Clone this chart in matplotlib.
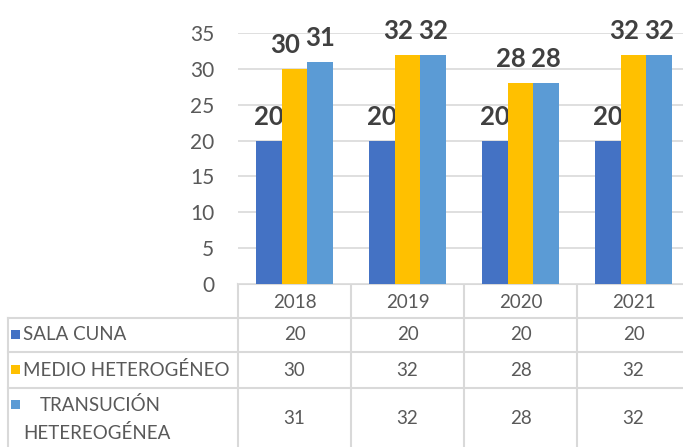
import matplotlib
matplotlib.use("Agg")
import matplotlib.pyplot as plt
import numpy as np

years = ["2018", "2019", "2020", "2021"]
series_names = ["SALA CUNA", "MEDIO HETEROGÉNEO", "TRANSUCIÓN HETEREOGÉNEA"]
sala_cuna = [20, 20, 20, 20]
medio_het = [30, 32, 28, 32]
transicion_het = [31, 32, 28, 32]
yticks = [0, 5, 10, 15, 20, 25, 30, 35]

colors = ["#4472C4", "#FFC000", "#5B9BD5"]
grid_c = "#D9D9D9"
txt_c = "#595959"
lbl_c = "#404040"

plt.rcParams['font.family'] = ['Lato', 'DejaVu Sans']

W, H = 683, 447
fig = plt.figure(figsize=(W / 100, H / 100), dpi=100)

# plot area in pixel coords
x0, x1 = 238, 690
y_top, y_bot = 33, 284
ax = fig.add_axes([x0 / W, (H - y_bot) / H, (x1 - x0) / W, (y_bot - y_top) / H])
ax.set_xlim(-0.5, 3.5)
ax.set_ylim(0, 35)
for s in ax.spines.values():
    s.set_visible(False)
ax.set_yticks(yticks)
ax.set_yticklabels([str(v) for v in yticks], color=txt_c, fontsize=15)
ax.tick_params(axis='y', length=0, pad=17)
ax.set_xticks([])
ax.yaxis.grid(True, color=grid_c, lw=1.2)
ax.set_axisbelow(True)

bw = 0.225
x = np.arange(len(years))
data = [sala_cuna, medio_het, transicion_het]
label_dx = [0, -7, 0]
for i, (vals, c) in enumerate(zip(data, colors)):
    pos = x + (i - 1) * bw
    ax.bar(pos, vals, width=bw, color=c, zorder=3)
    for p, v in zip(pos, vals):
        ax.annotate(str(v), (p, v), xytext=(label_dx[i], 8.5), textcoords='offset points',
                    ha='center', va='bottom', fontsize=18.5, fontweight='bold',
                    color=lbl_c, annotation_clip=False)

# table drawn in pixel coordinates
tab = fig.add_axes([0, 0, 1, 1], zorder=-1)
tab.set_xlim(0, W)
tab.set_ylim(H, 0)
tab.axis('off')
colw = (x1 - x0) / len(years)
left = 8
row_edges = [284, 318, 352, 388, 460]
lw = 1.5
# horizontal lines
tab.plot([x0, W], [row_edges[0]] * 2, color=grid_c, lw=lw)
for ye in row_edges[1:4]:
    tab.plot([left, W], [ye, ye], color=grid_c, lw=lw)
# vertical lines
tab.plot([left, left], [row_edges[1], H], color=grid_c, lw=lw)
for j in range(len(years)):
    xe = x0 + j * colw
    tab.plot([xe, xe], [row_edges[0], H], color=grid_c, lw=lw)

fs = 13.5
for j, yr in enumerate(years):
    cx = x0 + (j + 0.5) * colw
    tab.text(cx, 302, yr, ha='center', va='center', color=txt_c, fontsize=fs)
row_centers = [335, 370, 418]
for r, (name, vals, c) in enumerate(zip(series_names, data, colors)):
    cy = row_centers[r]
    if r < 2:
        tab.add_patch(plt.Rectangle((11, cy - 5), 9, 9, color=c, lw=0))
        tab.text(23, cy, name, ha='left', va='center', color=txt_c, fontsize=fs)
    else:
        tab.add_patch(plt.Rectangle((11, 405 - 5), 9, 9, color=c, lw=0))
        first, second = name.split(" ")
        tab.text(40, 405, first, ha='left', va='center', color=txt_c, fontsize=fs)
        tab.text(23, 433, second, ha='left', va='center', color=txt_c, fontsize=fs)
    for j, v in enumerate(vals):
        cx = x0 + (j + 0.5) * colw
        tab.text(cx, cy, str(v), ha='center', va='center', color=txt_c, fontsize=fs)

fig.savefig("out.png", dpi=100)
